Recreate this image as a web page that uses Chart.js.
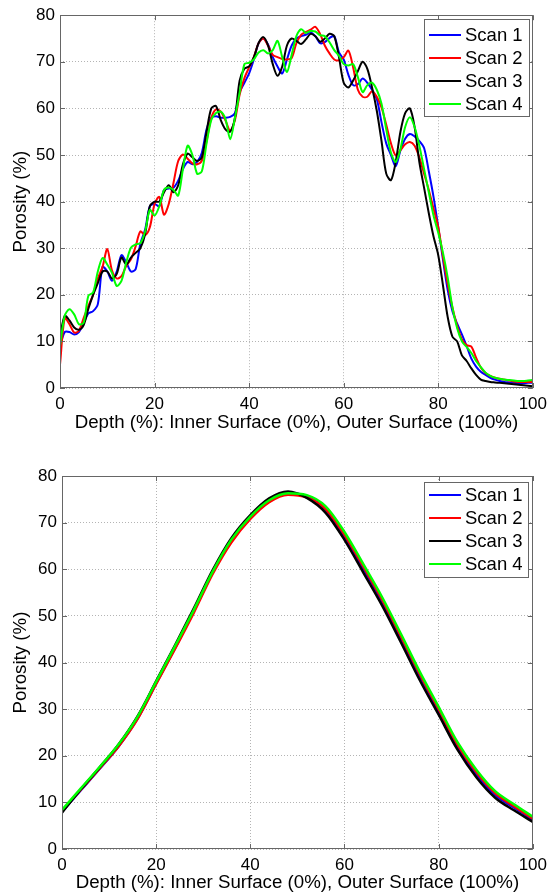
<!DOCTYPE html>
<html>
<head>
<meta charset="utf-8">
<script src="https://cdn.jsdelivr.net/npm/chart.js@4.4.0/dist/chart.umd.min.js"></script>
<style>
  html, body { margin: 0; padding: 0; background: #fff; }
  body { width: 553px; height: 896px; position: relative; overflow: hidden; }
  canvas { position: absolute; left: 0; }
  #rawChart { top: 0; }
  #fitChart { top: 460px; }
</style>
</head>
<body>
<canvas id="rawChart" width="553" height="440"></canvas>
<canvas id="fitChart" width="553" height="436"></canvas>
<script>
// measured profiles, depth step 1%
const depthRaw = [0,1,2,3,4,5,6,7,8,9,10,11,12,13,14,15,16,17,18,19,20,21,22,23,24,25,26,27,28,29,30,
  31,32,33,34,35,36,37,38,39,40,41,42,43,44,45,46,47,48,49,50,51,52,53,54,55,56,57,58,59,60,
  61,62,63,64,65,66,67,68,69,70,71,72,73,74,75,76,77,78,79,80,81,82,83,84,85,86,87,88,89,90,
  91,92,93,94,95,96,97,98,99,100];

const scan1Raw = [9,12,12,11.5,12,14,16,16.5,18,26,25,23,25,28.5,27,25,25.5,31,34,39,39.5,
  39,42.5,42.8,43,44.5,47,48.5,48,48.5,50.5,55.5,58,58.3,58,58,58.2,59,63.5,65.5,67.5,
  70.5,74,75,73.7,71,69,67.5,70.5,73.5,75,75.5,75.8,76.3,75.5,74,74.2,75.1,75.5,72,70.5,
  67.2,65,65.2,66.4,65.5,64,62,57,52.5,50,47.6,51,53.5,54.5,54,53,51.5,46.5,41,34.5,
  27.5,21,16.5,13.8,11.5,9,6.3,4.6,3.5,2.8,2.2,1.8,1.5,1.3,1.2,1.1,1,1,1.1,1.1];

const scan2Raw = [5,15,13.7,11.9,12.3,15,17.6,20,23.5,26,29.8,25.2,23.5,24,26.2,27.6,30.4,33.6,32.8,34.5,39.5,
  41,37.2,39.5,44,48.7,50.1,49.2,48.2,48,48.8,53,58,59.8,59.3,57.4,55.2,57.5,63,66.5,68.8,
  71,74,75,73.5,71.5,71,70.6,70.5,70.8,74,75.8,76.4,76.9,77.5,76,73.5,71.8,70.5,70.3,71,
  72.4,68.8,64,62.5,62.5,63.7,62.5,60.2,56.5,52.5,49.9,51,52.3,52.8,52,49.5,46,42.5,38.5,34.5,
  28.2,22.3,17.3,13.3,10.4,9.2,8.9,6.5,4.4,3.2,2.6,2.2,2,1.8,1.6,1.4,1.3,1.3,1.3,1.3];

const scan3Raw = [11,15.5,14.5,13,12.5,13.5,17,20,22.5,25,25,23.5,24.5,28,26.5,28,29,30,33,39,40,
  40,42,43.5,42,43.5,48,50.3,49.5,48.7,49.5,55,60,60.5,57.5,55.5,55,58,66,68.5,69,
  71,74,75.3,73.5,69.5,67,69,73.5,75,74.5,73.8,74.8,76,75.5,74.3,75,76,75.5,71,65.5,
  64.5,66,68,70,68.5,64.5,59.5,53,46,44.6,48.5,55,59,60,56,48.5,43,37.5,32.5,28.5,
  22,15.2,11,10,7,5.8,4.2,2.8,1.8,1.5,1.3,1.2,1.1,1,0.9,0.8,0.7,0.6,0.5,0.4];

const scan4Raw = [9,15.5,16.9,15.8,13.7,14,19.8,20.5,25,27.9,26.5,24.7,21.9,23,26.9,30.1,30.8,31.1,33.6,38.2,37,
  39,42.5,43,42.5,41.3,47,52,50,46,46.5,52.5,57.5,59,59.3,57.7,53.4,58,63.5,69.5,69.8,
  70.5,72,72.5,71.8,72.5,74.5,71,67.8,71.5,75.5,77,76.2,76.6,76.5,75.7,75.5,74.2,72.5,71.3,69.5,
  69.2,69.5,66.7,63.5,65,65.5,64,61,55.5,50.5,48.5,51.3,56,58.1,56,52,47,42,37,33.3,
  29,23.7,17.3,12.8,10,8.8,7.5,5.8,4.5,3.3,2.6,2.2,2,1.8,1.7,1.6,1.5,1.5,1.6,1.7];

// fitted profiles, depth step 4%
const depthFit = [0,4,8,12,16,20,24,28,32,36,40,44,48,52,56,60,64,68,72,76,80,84,88,92,96,100];
const scan1Fit = [8.0,12.6,17.2,22.0,27.9,35.5,43.1,51.0,59.3,66.2,71.2,74.8,76.4,75.6,72.8,67.1,60.2,53.1,45.2,37.1,29.6,22.0,16.1,11.6,8.9,6.3];
const scan2Fit = [8.1,12.7,17.3,22.0,27.8,35.4,42.9,50.7,59.0,65.8,70.8,74.4,76.0,75.4,72.9,67.4,60.6,53.5,45.6,37.5,30.0,22.4,16.5,12.0,9.2,6.5];
const scan3Fit = [7.8,12.8,17.5,22.4,28.4,36.0,43.7,51.6,59.8,66.7,71.6,75.2,76.7,75.3,72.1,66.3,59.3,52.2,44.3,36.2,28.8,21.3,15.4,11.0,8.3,5.8];
const scan4Fit = [8.4,13.0,17.6,22.4,28.3,35.9,43.5,51.3,59.5,66.4,71.3,74.8,76.3,75.9,73.5,68.0,61.1,54.0,46.1,38.0,30.5,22.9,17.0,12.4,9.6,6.9];

const scanLabels = ['Scan 1', 'Scan 2', 'Scan 3', 'Scan 4'];
const scanColors = ['#0000ff', '#ff0000', '#000000', '#00ff00'];
const xTitle = 'Depth (%): Inner Surface (0%), Outer Surface (100%)';
const yTitle = 'Porosity (%)';

const FONT = '"Liberation Sans", Arial, Helvetica, sans-serif';

// box, inward ticks and an inside legend like the original figure
const figureBits = {
  id: 'figureBits',
  afterDatasetsDraw(chart, args, opts) {
    const { ctx, chartArea: a, scales } = chart;
    ctx.save();
    ctx.strokeStyle = '#666';
    ctx.lineWidth = 1;
    ctx.beginPath();
    scales.x.ticks.forEach(t => {
      const px = Math.round(scales.x.getPixelForValue(t.value)) + 0.5;
      ctx.moveTo(px, a.bottom); ctx.lineTo(px, a.bottom - 5);
      ctx.moveTo(px, a.top); ctx.lineTo(px, a.top + 5);
    });
    scales.y.ticks.forEach(t => {
      const py = Math.round(scales.y.getPixelForValue(t.value)) + 0.5;
      ctx.moveTo(a.left, py); ctx.lineTo(a.left + 5, py);
      ctx.moveTo(a.right, py); ctx.lineTo(a.right - 5, py);
    });
    ctx.stroke();
    ctx.strokeRect(Math.round(a.left) + 0.5, Math.round(a.top) + 0.5,
      Math.round(a.right - a.left) - 1, Math.round(a.bottom - a.top) - 1);

    const bx = Math.round(a.right - opts.offsetRight - opts.width);
    const by = Math.round(a.top + opts.offsetTop);
    ctx.fillStyle = '#fff';
    ctx.fillRect(bx, by, opts.width, opts.height);
    ctx.strokeStyle = '#666';
    ctx.strokeRect(bx + 0.5, by + 0.5, opts.width, opts.height);
    ctx.font = '18.5px ' + FONT;
    ctx.textBaseline = 'middle';
    ctx.textAlign = 'left';
    chart.data.datasets.forEach((ds, i) => {
      const y = Math.round(by + opts.firstRow + i * opts.rowGap);
      ctx.strokeStyle = ds.borderColor;
      ctx.lineWidth = 2;
      ctx.beginPath();
      ctx.moveTo(bx + 5, y); ctx.lineTo(bx + 37, y);
      ctx.stroke();
      ctx.fillStyle = '#000';
      ctx.fillText(ds.label, bx + 41, y + 1);
    });
    ctx.restore();
  }
};

function makeSets(xs, series, width, tension) {
  return series.map((vals, i) => ({
    label: scanLabels[i],
    data: xs.map((x, j) => ({ x: x, y: vals[j] })),
    borderColor: scanColors[i],
    backgroundColor: scanColors[i],
    borderWidth: width,
    pointRadius: 0,
    tension: tension,
    cubicInterpolationMode: tension > 0.35 ? 'monotone' : 'default',
    order: 4 - i
  }));
}

function buildChart(id, sets, box) {
  const tickFont = { family: FONT, size: 17 };
  const labelFont = { family: FONT, size: 18.7 };
  new Chart(document.getElementById(id), {
    type: 'line',
    data: { datasets: sets },
    options: {
      responsive: false,
      animation: false,
      layout: { padding: { top: box.padTop, right: box.padRight, left: 0, bottom: 0 } },
      plugins: {
        legend: { display: false },
        tooltip: { enabled: false },
        figureBits: box.legend
      },
      scales: {
        x: {
          type: 'linear', min: 0, max: 100,
          ticks: { stepSize: 20, color: '#000', font: tickFont, padding: box.xTickPad, maxRotation: 0 },
          grid: { color: '#b4b4b4', drawTicks: false },
          border: { display: false, dash: [1, 2] },
          title: { display: true, text: xTitle, color: '#000', font: labelFont,
                   padding: { top: 0, bottom: box.xTitlePad } },
          afterFit(scale) { scale.height = box.xHeight; }
        },
        y: {
          min: 0, max: 80,
          ticks: { stepSize: 10, color: '#000', font: tickFont, padding: 5 },
          grid: { color: '#b4b4b4', drawTicks: false },
          border: { display: false, dash: [1, 2] },
          title: { display: true, text: yTitle, color: '#000', font: labelFont,
                   padding: { top: 10, bottom: 0 } },
          afterFit(scale) { scale.width = box.yWidth; }
        }
      }
    },
    plugins: [figureBits]
  });
}

buildChart('rawChart', makeSets(depthRaw, [scan1Raw, scan2Raw, scan3Raw, scan4Raw], 2, 0.3), {
  padTop: 12, padRight: 16, yWidth: 60, xHeight: 52, xTickPad: 6, xTitlePad: 6,
  legend: { offsetRight: 4, offsetTop: 4, width: 105, height: 97, firstRow: 16, rowGap: 23 }
});

buildChart('fitChart', makeSets(depthFit, [scan1Fit, scan2Fit, scan3Fit, scan4Fit], 2.5, 0.4), {
  padTop: 16, padRight: 18, yWidth: 62, xHeight: 47, xTickPad: 6, xTitlePad: 2,
  legend: { offsetRight: 5, offsetTop: 6, width: 104, height: 95, firstRow: 12.5, rowGap: 23 }
});
</script>
</body>
</html>
